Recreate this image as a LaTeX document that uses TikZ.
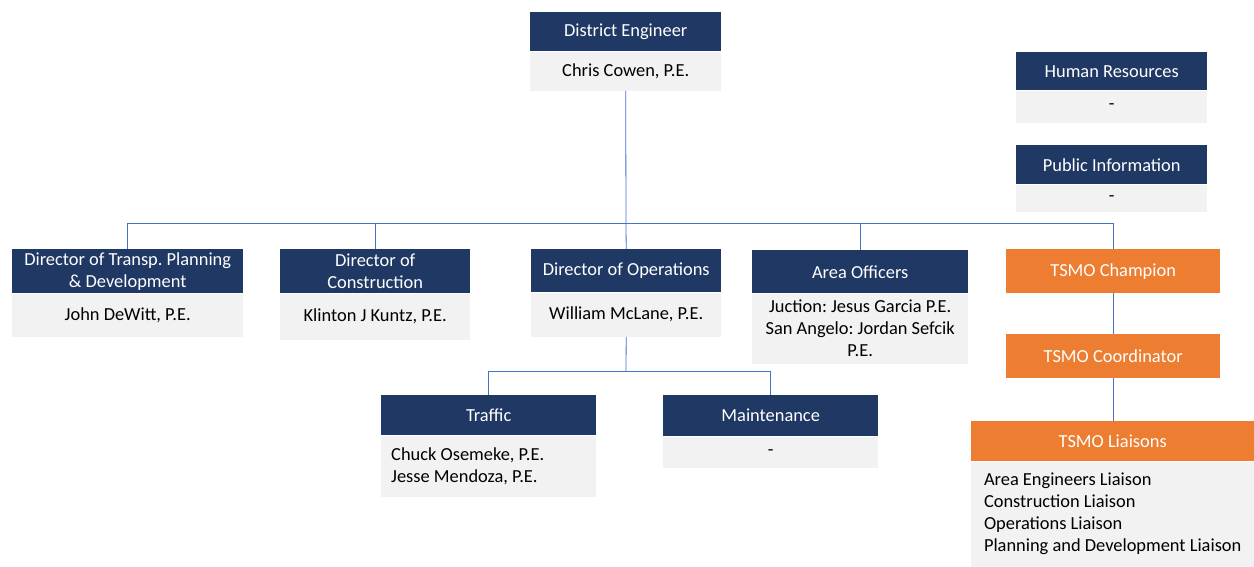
\documentclass[tikz,border=0pt]{standalone}
\usepackage{fontspec}
\setmainfont{Carlito}
\usetikzlibrary{positioning}

\definecolor{navy}{HTML}{1F3864}
\definecolor{tsmo}{HTML}{ED7D31}
\definecolor{pale}{HTML}{F2F2F2}
\definecolor{wire}{HTML}{4472C4}

\tikzset{
  head/.style={fill=navy,text=white,inner sep=0pt,align=center,font=\fontsize{18.4}{22}\selectfont\frenchspacing},
  tsmohead/.style={head,fill=tsmo},
  body/.style={fill=pale,text=black,inner sep=0pt,align=center,font=\fontsize{18.4}{22}\selectfont\frenchspacing},
  link/.style={draw=wire,line width=0.8pt}
}

\begin{document}
\begin{tikzpicture}[x=1pt,y=-1pt]
  % Boundary
  \useasboundingbox (0,0) rectangle (1254,566);
  % Top
  \node[head,anchor=north west,minimum width=191pt,minimum height=39pt] (de) at (530,12) {District Engineer};
  \node[body,anchor=north,minimum width=191pt,minimum height=39pt] (deb) at (de.south) {Chris Cowen, P.E.};
  % Staff
  \node[head,anchor=north west,minimum width=191pt,minimum height=38pt] (hr) at (1016,52) {Human Resources};
  \node[body,anchor=north,minimum width=191pt,minimum height=32pt] (hrb) at (hr.south) {-};
  \node[head,anchor=north west,minimum width=191pt,minimum height=39pt] (pi) at (1016,145) {Public Information};
  \node[body,anchor=north,minimum width=191pt,minimum height=27pt] (pib) at (pi.south) {-};
  % Directors
  \node[head,anchor=north west,minimum width=231pt,minimum height=44pt] (dtp) at (12,249) {Director of Transp. Planning\\\& Development};
  \node[body,anchor=north,minimum width=231pt,minimum height=43pt] (dtpb) at (dtp.south) {John DeWitt, P.E.};
  \node[head,anchor=north west,minimum width=190pt,minimum height=44pt] (dc) at (280,249) {Director of\\Construction};
  \node[body,anchor=north,minimum width=190pt,minimum height=46pt] (dcb) at (dc.south) {Klinton J Kuntz, P.E.};
  \node[head,anchor=north west,minimum width=190pt,minimum height=43pt] (dop) at (531,249) {Director of Operations};
  \node[body,anchor=north,minimum width=190pt,minimum height=44pt] (dopb) at (dop.south) {William McLane, P.E.};
  \node[head,anchor=north west,minimum width=216pt,minimum height=43pt] (ao) at (752,250) {Area Officers};
  \node[body,anchor=north,minimum width=216pt,minimum height=70pt] (aob) at (ao.south) {Juction: Jesus Garcia P.E.\\San Angelo: Jordan Sefcik\\P.E.};
  % TSMO
  \node[tsmohead,anchor=north west,minimum width=214pt,minimum height=44pt] (champ) at (1006,249) {TSMO Champion};
  \node[tsmohead,anchor=north west,minimum width=214pt,minimum height=44pt] (coord) at (1006,334) {TSMO Coordinator};
  \node[tsmohead,anchor=north west,minimum width=283pt,minimum height=40pt] (liai) at (971,421) {TSMO Liaisons};
  \node[body,anchor=north,align=left,minimum width=283pt,minimum height=105pt] (liaib) at (liai.south) {Area Engineers Liaison\\Construction Liaison\\Operations Liaison\\Planning and Development Liaison};
  % Operations units
  \node[head,anchor=north west,minimum width=215pt,minimum height=40pt] (traf) at (381,395) {Traffic};
  \node[body,anchor=north,align=flush left,text width=195pt,inner xsep=10pt,minimum height=61pt] (trafb) at (traf.south) {Chuck Osemeke, P.E.\\Jesse Mendoza, P.E.};
  \node[head,anchor=north west,minimum width=215pt,minimum height=41pt] (mnt) at (663,395) {Maintenance};
  \node[body,anchor=north,minimum width=215pt,minimum height=31pt] (mntb) at (mnt.south) {-};
  % Connectors
  \coordinate (bus) at (626,223);
  \coordinate (opbus) at (626,371);
  \draw[link] (deb.south) -- (bus);
  \draw[link] (dtp.north) |- (bus);
  \draw[link] (dc.north) |- (bus);
  \draw[link] (dop.north) -- (bus);
  \draw[link] (ao.north) |- (bus);
  \draw[link] (champ.north) |- (bus);
  \draw[link] (dopb.south) -- (opbus);
  \draw[link] (traf.north) |- (opbus);
  \draw[link] (mnt.north) |- (opbus);
  \draw[link] (champ.south) -- (coord.north);
  \draw[link] (coord.south) -- (coord.south |- liai.north);
\end{tikzpicture}
\end{document}
